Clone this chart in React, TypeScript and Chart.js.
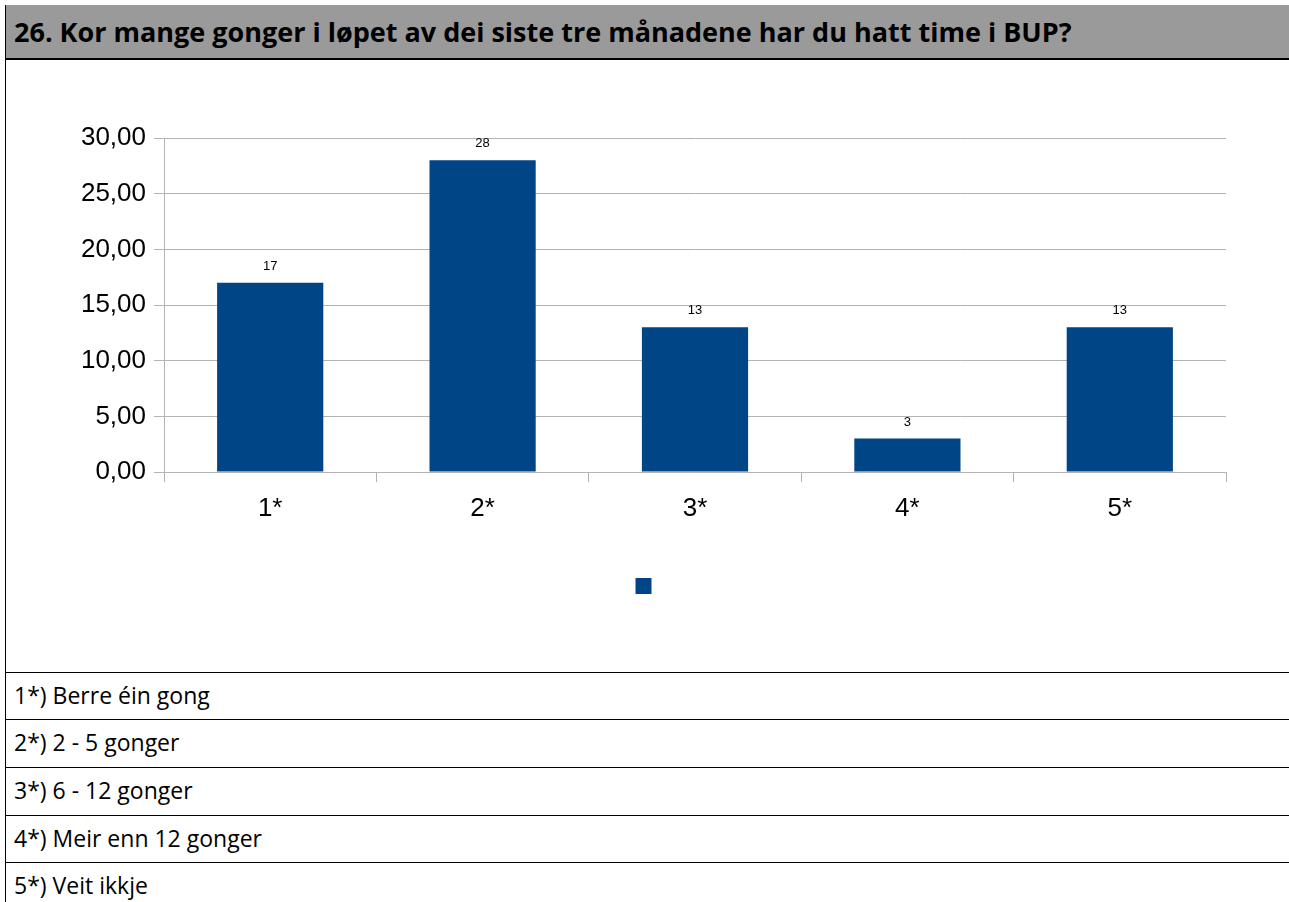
import React, { useEffect, useRef } from "react";
import { Chart, registerables } from "chart.js";

Chart.register(...registerables);

const TITLE = "26. Kor mange gonger i løpet av dei siste tre månadene har du hatt time i BUP?";
const CATEGORIES = ["1*", "2*", "3*", "4*", "5*"];
const VALUES = [17, 28, 13, 3, 13];
const Y_MIN = 0;
const Y_MAX = 30;
const Y_STEP = 5;
const FOOTNOTES = [
  "1*) Berre éin gong",
  "2*) 2 - 5 gonger",
  "3*) 6 - 12 gonger",
  "4*) Meir enn 12 gonger",
  "5*) Veit ikkje",
];

const BAR_COLOR = "#004586";
const GRID_COLOR = "#b3b3b3";
const ROW_LINES = [672, 719, 767, 815, 862];
const AXIS_FONT = '"Liberation Sans", Arial, sans-serif';

const valueLabelPlugin = {
  id: "valueLabels",
  afterDatasetsDraw(chart: any) {
    const ctx = chart.ctx;
    const meta = chart.getDatasetMeta(0);
    ctx.save();
    ctx.font = "13px " + AXIS_FONT;
    ctx.fillStyle = "#000";
    ctx.textAlign = "center";
    ctx.textBaseline = "bottom";
    meta.data.forEach((bar: any, i: number) => {
      ctx.fillText(String(VALUES[i]), bar.x, bar.y - 10);
    });
    ctx.restore();
  },
};

function BarChart() {
  const ref = useRef<HTMLCanvasElement | null>(null);
  useEffect(() => {
    if (!ref.current) return;
    const chart = new Chart(ref.current, {
      type: "bar",
      data: {
        labels: CATEGORIES,
        datasets: [
          {
            label: "",
            data: VALUES,
            backgroundColor: BAR_COLOR,
            borderWidth: 0,
            categoryPercentage: 1,
            barPercentage: 0.5,
          },
        ],
      },
      options: {
        animation: false,
        responsive: false,
        maintainAspectRatio: false,
        layout: { padding: { top: 78, right: 0, bottom: 68, left: 0 } },
        plugins: {
          legend: {
            display: true,
            position: "bottom",
            labels: {
              boxWidth: 16,
              boxHeight: 16,
              font: { size: 16, family: AXIS_FONT },
              color: "#000",
            },
          },
          tooltip: { enabled: false },
        },
        scales: {
          x: {
            offset: true,
            grid: {
              offset: true,
              drawTicks: true,
              tickLength: 10,
              color: (c: any) => (c.index === CATEGORIES.length ? GRID_COLOR : "rgba(0,0,0,0)"),
              tickColor: GRID_COLOR,
              lineWidth: 1,
            },
            border: { display: true, color: GRID_COLOR, width: 1 },
            ticks: {
              color: "#000",
              padding: 11,
              font: { size: 26, family: AXIS_FONT },
              maxRotation: 0,
            },
            afterFit: (scale: any) => {
              scale.height = 96;
            },
          },
          y: {
            min: Y_MIN,
            max: Y_MAX,
            ticks: {
              stepSize: Y_STEP,
              color: "#000",
              padding: 8,
              font: { size: 26, family: AXIS_FONT },
              callback: (v: any) => Number(v).toFixed(2).replace(".", ","),
            },
            grid: { color: GRID_COLOR, tickLength: 10, tickColor: GRID_COLOR, lineWidth: 1 },
            border: { display: true, color: GRID_COLOR, width: 1 },
            afterFit: (scale: any) => {
              scale.width = 158;
            },
          },
          yRight: {
            type: "linear",
            position: "right",
            display: true,
            ticks: { display: false },
            grid: { display: false, drawTicks: false },
            border: { display: false },
            afterFit: (scale: any) => {
              scale.width = 63;
            },
          },
        },
      },
      plugins: [valueLabelPlugin],
    } as any);
    return () => chart.destroy();
  }, []);
  return (
    <canvas
      ref={ref}
      width={1283}
      height={612}
      style={{ position: "absolute", left: 6, top: 60, width: 1283, height: 612 }}
    />
  );
}

export default function App() {
  const textFont = '"Open Sans", "Noto Sans", sans-serif';
  return (
    <div
      style={{
        position: "absolute",
        left: 0,
        top: 0,
        width: 1289,
        height: 902,
        background: "#fff",
        overflow: "hidden",
      }}
    >
      <div
        style={{
          position: "absolute",
          left: 5,
          top: 5,
          width: 1284,
          height: 54,
          background: "#9a9a9a",
        }}
      />
      <div
        style={{
          position: "absolute",
          left: 14,
          top: 18,
          lineHeight: "27px",
          fontFamily: textFont,
          fontWeight: 700,
          fontSize: 27,
          color: "#000",
          whiteSpace: "nowrap",
        }}
      >
        {TITLE}
      </div>
      <div style={{ position: "absolute", left: 5, top: 5, width: 1, height: 897, background: "#000" }} />
      <div style={{ position: "absolute", left: 5, top: 58, width: 1284, height: 2, background: "#000" }} />
      <BarChart />
      {ROW_LINES.map((y, i) => (
        <div key={"l" + i} style={{ position: "absolute", left: 5, top: y, width: 1284, height: 1, background: "#000" }} />
      ))}
      {FOOTNOTES.map((t, i) => (
        <div
          key={"f" + i}
          style={{
            position: "absolute",
            left: 14,
            top: ROW_LINES[i] + 12,
            lineHeight: "23px",
            fontFamily: textFont,
            fontSize: 23,
            color: "#000",
            whiteSpace: "nowrap",
          }}
        >
          {t}
        </div>
      ))}
    </div>
  );
}
